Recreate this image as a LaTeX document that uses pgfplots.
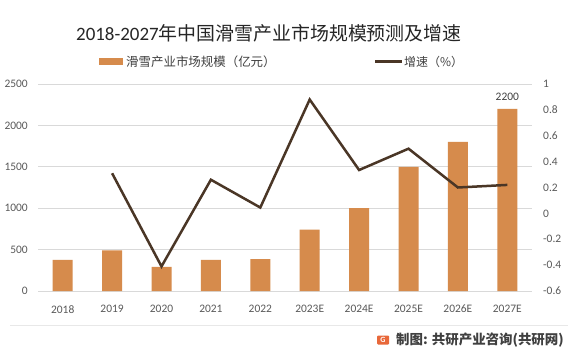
\documentclass[border=0pt]{standalone}
\usepackage{fontspec}
\setmainfont{Carlito}
\newfontfamily\cjk{Noto Sans CJK SC}
\usepackage{pgfplots}
\pgfplotsset{compat=1.18}
\definecolor{barc}{HTML}{D68B4C}
\definecolor{linec}{HTML}{4A3626}
\definecolor{gridc}{HTML}{D9D9D9}
\definecolor{tickc}{HTML}{595959}
\definecolor{txtc}{HTML}{404040}
\definecolor{titc}{HTML}{262626}
\definecolor{logoc}{HTML}{E8683A}
\begin{document}
\begin{tikzpicture}[x=1bp,y=1bp]
\useasboundingbox (0,0) rectangle (568,356);
\fill[white] (0,0) rectangle (568,356);
\begin{axis}[
  at={(38bp,65bp)}, anchor=south west,
  width=494bp, height=207bp, scale only axis,
  xmin=-0.5, xmax=9.5, ymin=0, ymax=2500,
  xtick={0,...,9},
  xticklabels={2018,2019,2020,2021,2022,2023E,2024E,2025E,2026E,2027E},
  ytick={0,500,1000,1500,2000,2500},
  axis line style={draw=none},
  major tick length=0pt,
  ymajorgrids, grid style={gridc, line width=0.8bp},
  tick label style={font=\fontsize{11.5}{12}\selectfont, text=tickc},
  /pgf/number format/assume math mode=true,
  /pgf/number format/set thousands separator={},
  yticklabel style={anchor=east, inner sep=0pt, xshift=-10bp},
  xticklabel style={anchor=north, inner sep=0pt, yshift=-14bp},
  clip=false,
]
\addplot[ybar, bar width=20bp, fill=barc, draw=none] coordinates {
  (0,375) (1,490) (2,290) (3,375) (4,386) (5,740) (6,1000) (7,1500) (8,1800) (9,2200)};
\node[anchor=south, inner sep=0pt, yshift=8bp, font=\fontsize{11.5}{12}\selectfont, text=txtc] at (axis cs:9,2200) {2200};
\end{axis}
\begin{axis}[
  at={(38bp,65bp)}, anchor=south west,
  width=494bp, height=207bp, scale only axis,
  xmin=-0.5, xmax=9.5, ymin=-0.6, ymax=1,
  axis x line=none, axis y line*=right,
  axis line style={draw=none},
  major tick length=0pt,
  ytick={-0.6,-0.4,-0.2,0,0.2,0.4,0.6,0.8,1},
  tick label style={font=\fontsize{11.5}{12}\selectfont, text=tickc},
  /pgf/number format/assume math mode=true,
  yticklabel style={anchor=west, inner sep=0pt, xshift=11bp},
  clip=false,
]
\addplot[linec, line width=2.5bp, line join=miter] coordinates {
  (1,0.31) (2,-0.41) (3,0.26) (4,0.045) (5,0.88) (6,0.335) (7,0.50) (8,0.20) (9,0.22)};
\end{axis}
% title
\node[font=\fontsize{19}{19}\selectfont, text=titc, anchor=west, inner sep=0pt] at (76,323) {2018-2027{\cjk 年中国滑雪产业市场规模预测及增速}};
% legend
\fill[barc] (99,291) rectangle (123,298);
\node[anchor=west, inner sep=0pt, font=\fontsize{12.5}{12.5}\cjk, text=txtc] at (126,294.5) {滑雪产业市场规模（亿元）};
\draw[linec, line width=2.5bp] (375,294.5)--(402,294.5);
\node[anchor=west, inner sep=0pt, font=\fontsize{12}{12}\cjk, text=txtc] at (404,294.5) {增速（\%）};
% footer
\draw[gridc!60, line width=0.8bp] (10,31)--(568,31);
\fill[logoc, rounded corners=1bp] (377,11.5) rectangle (389,20.5);
\node[font=\fontsize{8}{8}\bfseries, text=white, inner sep=0pt] at (383,16) {G};
\node[anchor=west, inner sep=0pt, font=\fontsize{13.5}{13.5}\cjk\bfseries, text=txtc] at (396,15.5) {制图: 共研产业咨询(共研网)};
\end{tikzpicture}
\end{document}
